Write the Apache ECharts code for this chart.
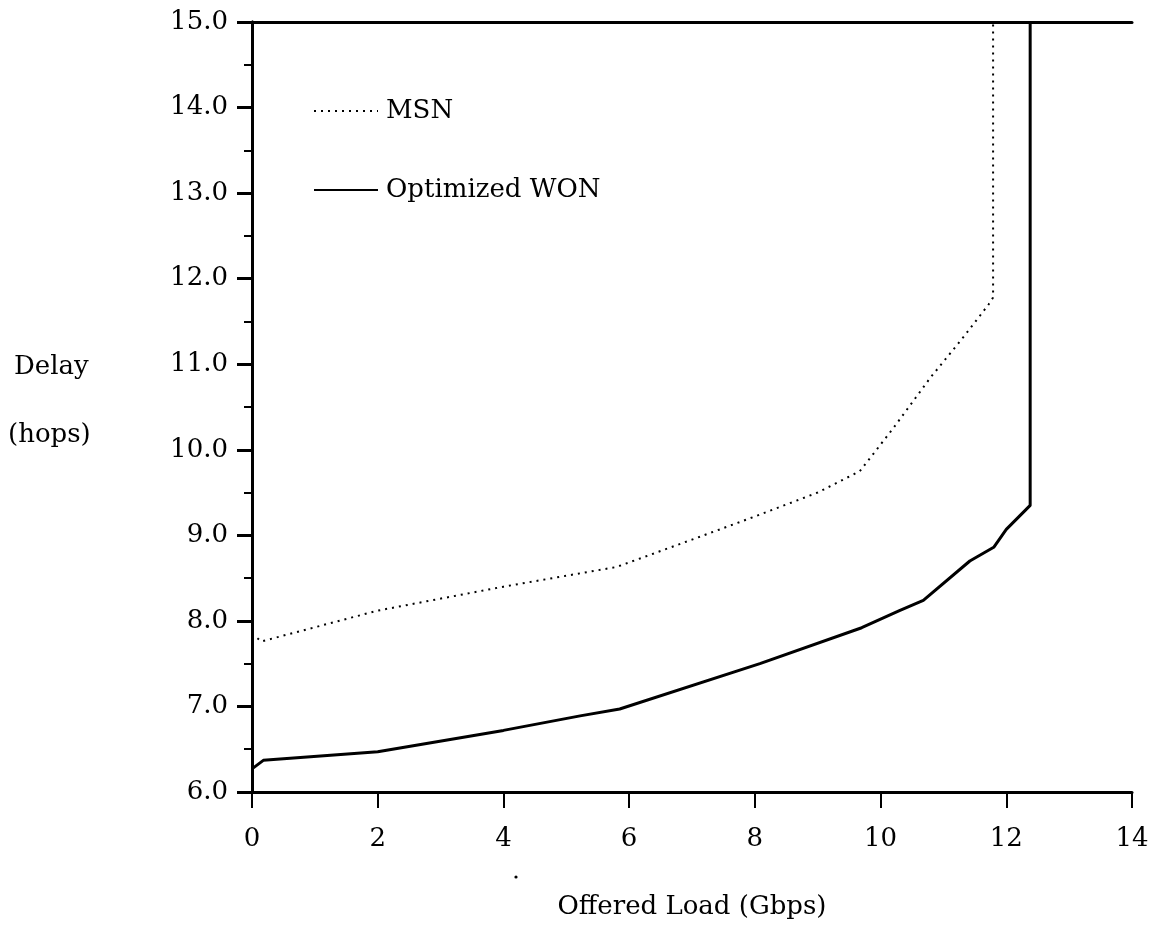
<!DOCTYPE html>
<html>
<head>
<meta charset="utf-8">
<script src="https://cdn.jsdelivr.net/npm/echarts@6/dist/echarts.min.js"></script>
<style>
  html, body { margin: 0; padding: 0; background: #fff; }
  #chart { width: 1158px; height: 943px; }
</style>
</head>
<body>
<div id="chart"></div>
<script>
// Offered load (Gbps) vs. mean delay (hops)
const msnLoad  = [0, 0.15, 2.0, 4.0, 5.8, 7.0, 8.0, 9.0, 9.67, 10.2, 10.8, 11.3, 11.72, 11.79, 11.79];
const msnDelay = [7.85, 7.76, 8.12, 8.40, 8.63, 8.95, 9.22, 9.50, 9.75, 10.25, 10.85, 11.30, 11.70, 11.78, 15.0];

const wonLoad  = [0, 0.18, 2.0, 4.0, 5.22, 5.85, 8.08, 9.7, 10.3, 10.68, 11.42, 11.8, 12.0, 12.38, 12.38];
const wonDelay = [6.27, 6.37, 6.47, 6.72, 6.89, 6.97, 7.50, 7.92, 8.12, 8.24, 8.70, 8.86, 9.07, 9.35, 15.0];

const xTicks = { min: 0, max: 14, step: 2 };
const yTicks = { min: 6, max: 15, step: 1 };

const FONT = '"DejaVu Serif", "Liberation Serif", serif';
const FS = 26;

function pairs(xs, ys) { return xs.map((x, i) => [x, ys[i]]); }

const chart = echarts.init(document.getElementById('chart'));
chart.setOption({
  backgroundColor: '#ffffff',
  animation: false,
  textStyle: { fontFamily: FONT, color: '#000' },
  grid: { left: 252, right: 26, top: 22, bottom: 151, containLabel: false },
  legend: {
    orient: 'vertical',
    left: 308,
    top: 93,
    itemWidth: 64,
    itemHeight: 30,
    itemGap: 53,
    itemStyle: { opacity: 0 },
    textStyle: { fontFamily: FONT, fontSize: FS, color: '#000', padding: [0, 0, 0, 3] },
    data: ['MSN', 'Optimized WON']
  },
  xAxis: [{
    type: 'value',
    min: xTicks.min, max: xTicks.max, interval: xTicks.step,
    axisLine: { show: true, lineStyle: { color: '#000', width: 3 } },
    axisTick: { show: true, inside: false, length: 16, lineStyle: { color: '#000', width: 2 } },
    axisLabel: { margin: 34, fontFamily: FONT, fontSize: FS, color: '#000' },
    splitLine: { show: false },
    name: 'Offered Load (Gbps)',
    nameLocation: 'middle',
    nameGap: 102,
    nameTextStyle: { fontFamily: FONT, fontSize: FS, color: '#000' }
  }, {
    type: 'value', position: 'top',
    min: xTicks.min, max: xTicks.max,
    axisLine: { show: true, lineStyle: { color: '#000', width: 3 } },
    axisTick: { show: false }, axisLabel: { show: false }, splitLine: { show: false }
  }],
  yAxis: [{
    type: 'value',
    min: yTicks.min, max: yTicks.max, interval: yTicks.step,
    axisLine: { show: true, lineStyle: { color: '#000', width: 3 } },
    axisTick: { show: true, inside: false, length: 15, lineStyle: { color: '#000', width: 3 } },
    minorTick: { show: true, splitNumber: 2, length: 8, lineStyle: { color: '#000', width: 2 } },
    axisLabel: { margin: 24, fontFamily: FONT, fontSize: FS, color: '#000',
                 formatter: v => v.toFixed(1) },
    splitLine: { show: false }
  }, {
    type: 'value', position: 'right',
    min: yTicks.min, max: yTicks.max,
    axisLine: { show: true, lineStyle: { color: '#000', width: 3 } },
    axisTick: { show: false }, axisLabel: { show: false }, splitLine: { show: false }
  }],
  graphic: [
    { type: 'text', left: 14, top: 354,
      style: { text: 'Delay', font: FS + 'px ' + FONT, fill: '#000' } },
    { type: 'text', left: 8, top: 422,
      style: { text: '(hops)', font: FS + 'px ' + FONT, fill: '#000' } },
    { type: 'circle', shape: { cx: 516, cy: 877, r: 1.6 }, style: { fill: '#000' } }
  ],
  series: [{
    name: 'MSN',
    type: 'line',
    data: pairs(msnLoad, msnDelay),
    showSymbol: false,
    symbol: 'none',
    lineStyle: { color: '#000', width: 2, type: [2, 5] },
    itemStyle: { color: '#000' }
  }, {
    name: 'Optimized WON',
    type: 'line',
    data: pairs(wonLoad, wonDelay),
    showSymbol: false,
    symbol: 'none',
    lineStyle: { color: '#000', width: 3 },
    itemStyle: { color: '#000' }
  }]
});
</script>
</body>
</html>
